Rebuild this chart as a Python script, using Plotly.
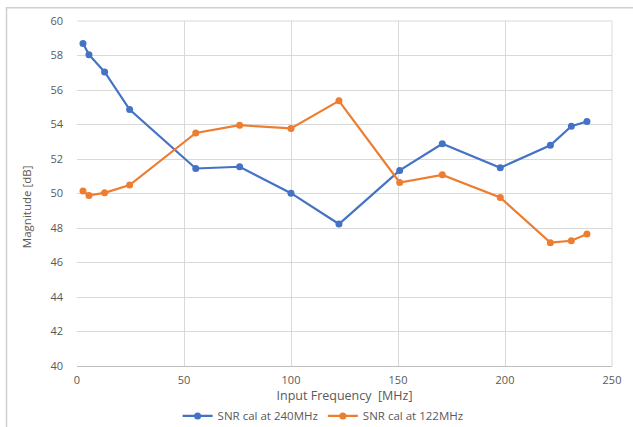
import plotly.graph_objects as go

freq = [2.8, 5.6, 12.9, 24.6, 55.5, 76.0, 100.0, 122.4, 150.8, 170.7, 197.8, 221.2, 231.0, 238.3]
snr_240 = [58.69, 58.05, 57.05, 54.87, 51.45, 51.55, 50.02, 48.23, 51.34, 52.88, 51.49, 52.80, 53.90, 54.17]
snr_122 = [50.14, 49.89, 50.04, 50.49, 53.51, 53.96, 53.77, 55.37, 50.64, 51.08, 49.77, 47.15, 47.26, 47.65]
series_names = ["SNR cal at 240MHz", "SNR cal at 122MHz"]
x_ticks = [0, 50, 100, 150, 200, 250]
y_ticks = [40, 42, 44, 46, 48, 50, 52, 54, 56, 58, 60]

FONT = "Open Sans"
TXT = "#595959"
GRID = "#d9d9d9"

fig = go.Figure()
fig.add_trace(go.Scatter(x=freq, y=snr_240, mode="lines+markers", name=series_names[0],
                         line=dict(color="#4472C4", width=2.2),
                         marker=dict(color="#4472C4", size=7)))
fig.add_trace(go.Scatter(x=freq, y=snr_122, mode="lines+markers", name=series_names[1],
                         line=dict(color="#ED7D31", width=2.2),
                         marker=dict(color="#ED7D31", size=7)))

fig.update_layout(
    width=633, height=427,
    margin=dict(l=77, r=21, t=21, b=61, autoexpand=False),
    paper_bgcolor="white", plot_bgcolor="white",
    font=dict(family=FONT, size=11, color=TXT),
    showlegend=True,
    legend=dict(orientation="h", x=0.46, xanchor="center", y=(366 - 416) / 345.3, yanchor="middle",
                font=dict(family=FONT, size=11.5, color=TXT), itemwidth=30,
                tracegroupgap=0, bgcolor="rgba(0,0,0,0)"),
    xaxis=dict(range=[0, 250], tickvals=x_ticks, showgrid=True, gridcolor=GRID, gridwidth=1,
               zeroline=False, showline=True, linecolor="#bfbfbf", linewidth=1,
               ticks="", tickfont=dict(family=FONT, size=11, color=TXT), ticklabelstandoff=4,
               title=dict(text="Input Frequency  [MHz]", font=dict(family=FONT, size=12.5, color=TXT),
                          standoff=3)),
    yaxis=dict(range=[40, 60], tickvals=y_ticks, showgrid=True, gridcolor=GRID, gridwidth=1,
               zeroline=False, showline=False, ticks="",
               tickfont=dict(family=FONT, size=11, color=TXT), ticklabelstandoff=13),
    annotations=[dict(text="Magnitude [dB]", xref="paper", yref="paper",
                      x=(26 - 77) / 535, y=(366 - 207) / 345.3, textangle=-90,
                      showarrow=False, font=dict(family=FONT, size=11.5, color=TXT),
                      xanchor="center", yanchor="middle")],
    shapes=[
        dict(type="rect", xref="paper", yref="paper", x0=(6.5 - 77) / 535, x1=(640 - 77) / 535,
             y0=(366 - 440) / 345.3, y1=(366 - 7.5) / 345.3,
             line=dict(color="#d0d0d0", width=1.5), fillcolor="rgba(0,0,0,0)", layer="above"),
        dict(type="line", xref="paper", yref="paper", x0=1, x1=1, y0=0, y1=1,
             line=dict(color=GRID, width=1)),
        dict(type="line", xref="paper", yref="paper", x0=0, x1=1, y0=1, y1=1,
             line=dict(color=GRID, width=1)),
    ],
)

fig.write_html("out.html", config={"displayModeBar": False},
               post_script="document.body.style.margin='0';")
